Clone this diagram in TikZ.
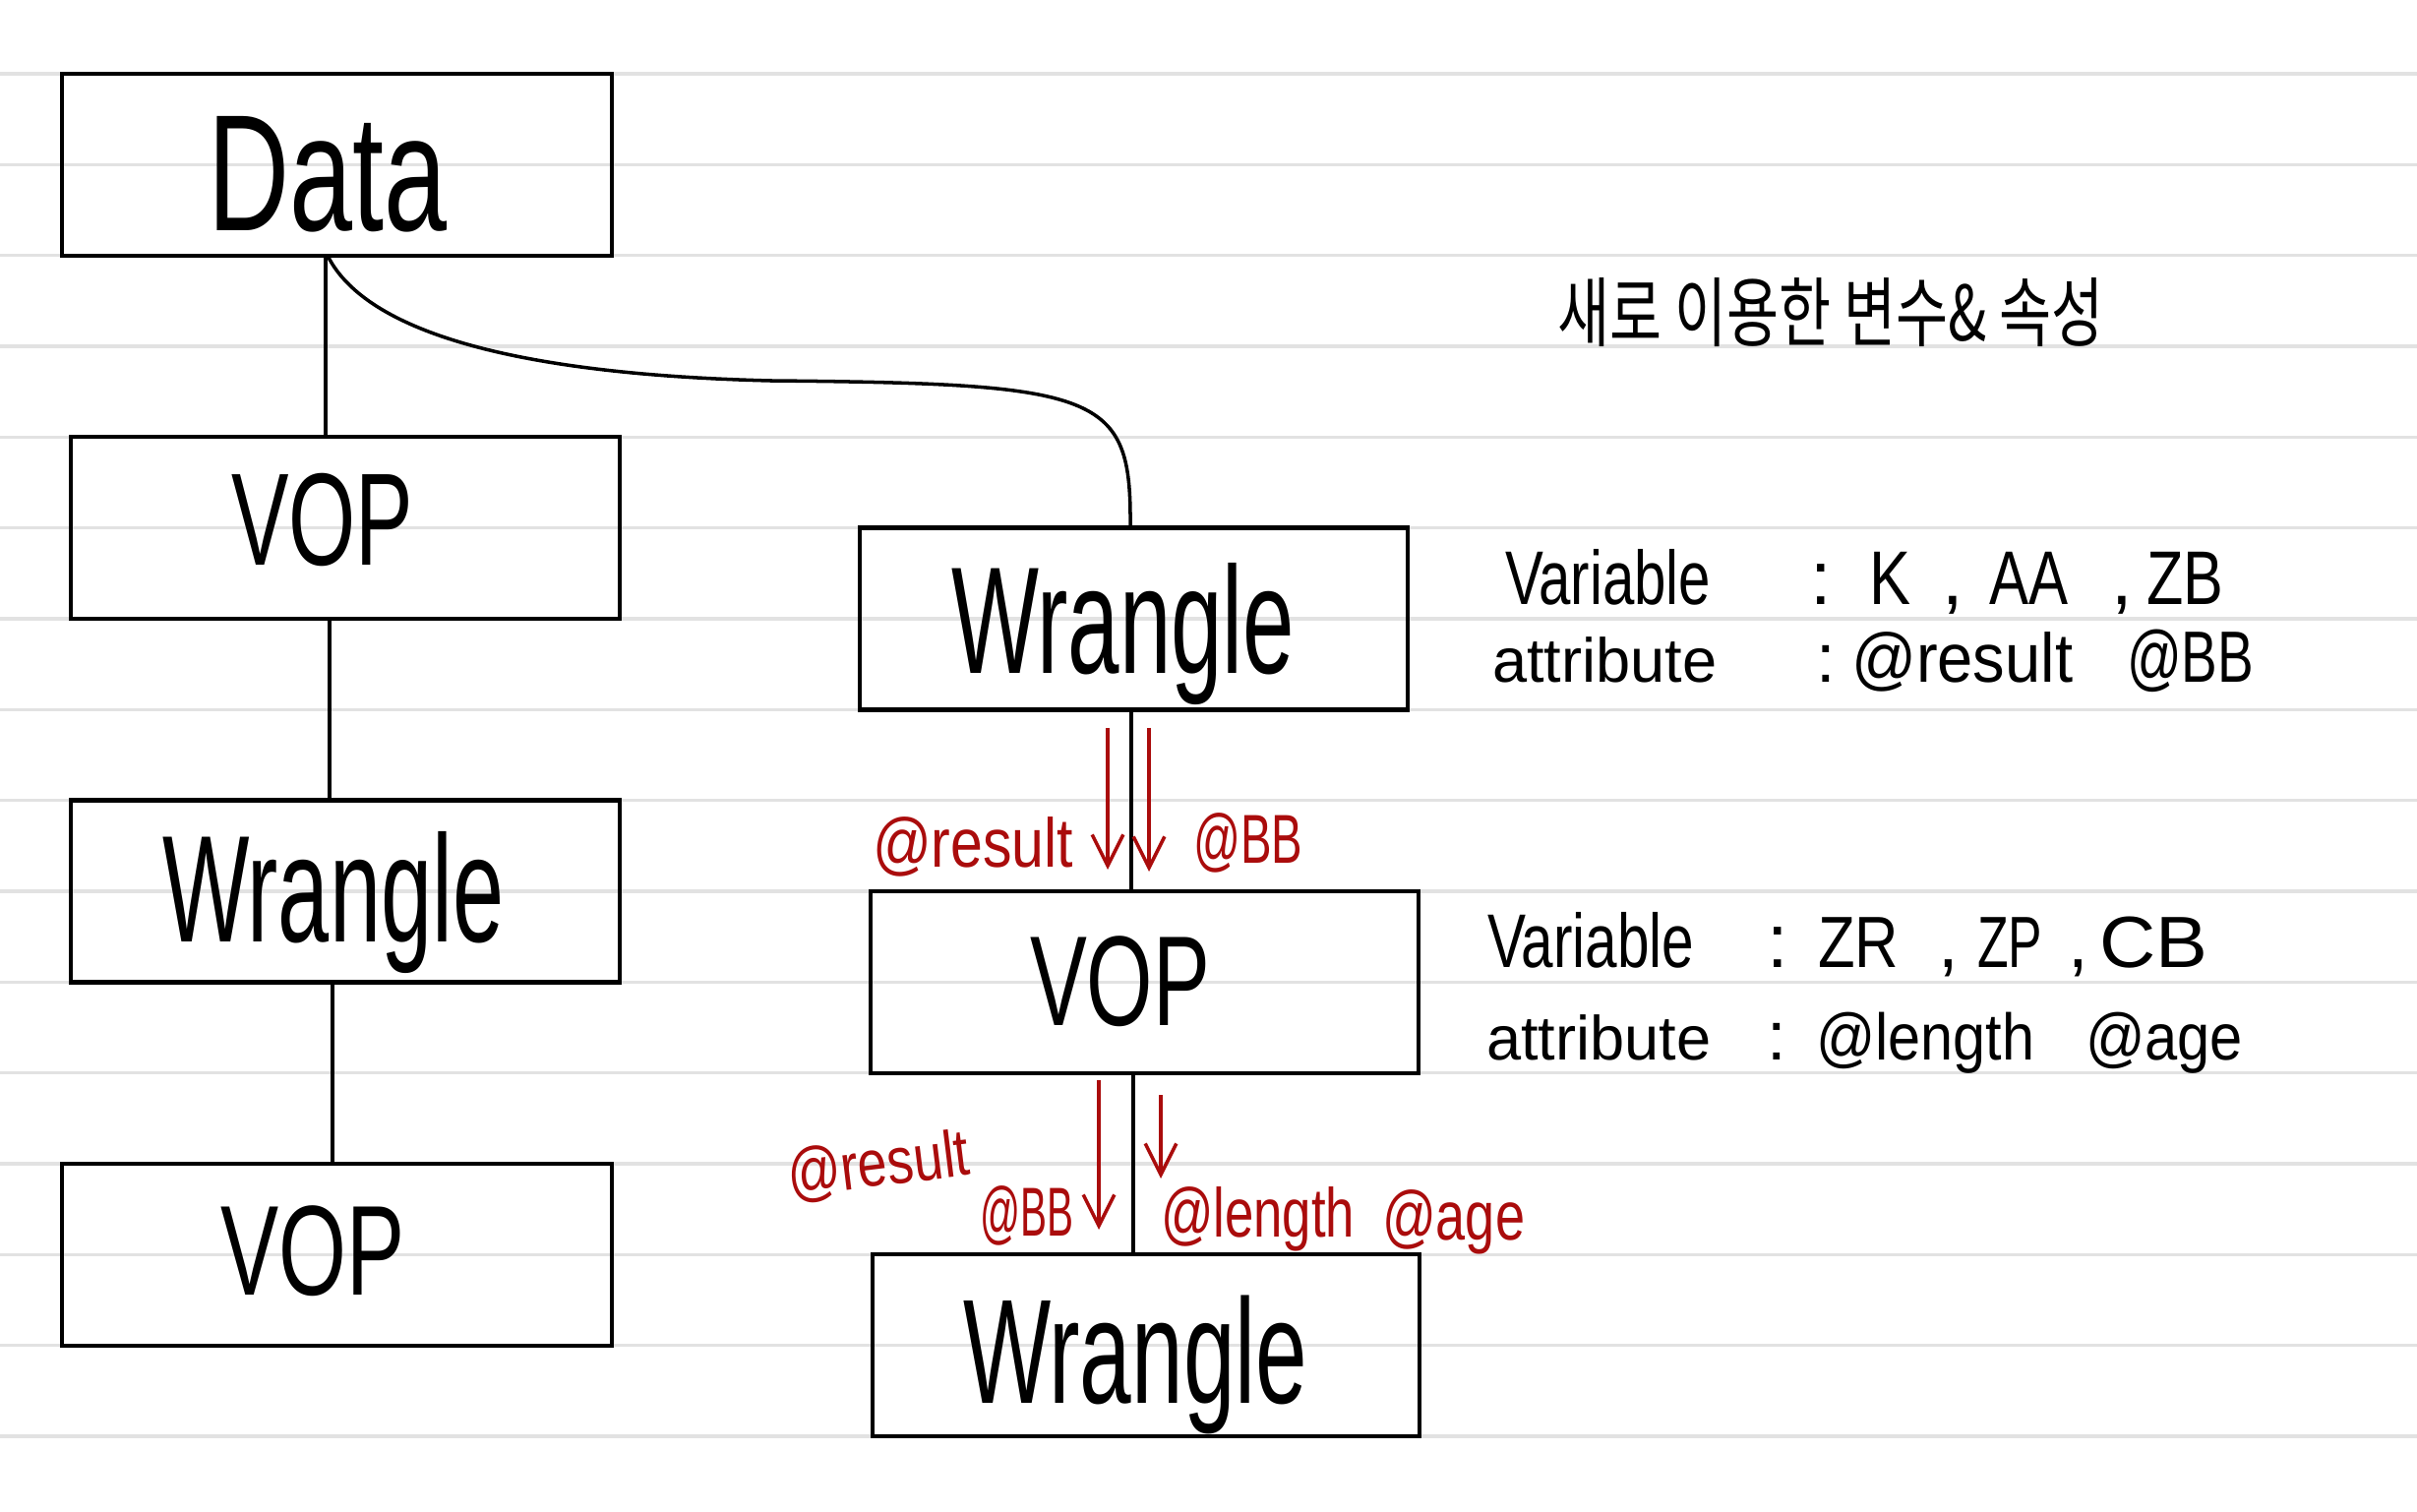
\documentclass[tikz,border=0pt]{standalone}
\usepackage{fontspec}
\setmainfont{Liberation Sans}
\newfontfamily\kr{Noto Sans CJK KR}
\usepackage{graphicx}
\usetikzlibrary{arrows.meta}
\definecolor{inkred}{RGB}{170,12,12}
\definecolor{rulegray}{RGB}{226,226,226}
\newcommand{\hw}[2]{\resizebox{#1}{\height}{#2}}
\newcommand{\fs}[1]{\fontsize{#1}{#1}\selectfont}
\begin{document}
\begin{tikzpicture}[x=0.01cm,y=-0.01cm,
  box/.style={draw, line width=1.2pt, rectangle, inner sep=0pt, minimum height=1.847cm},
  lbl/.style={anchor=base west, inner sep=0pt, outer sep=0pt},
  redlbl/.style={anchor=base west, inner sep=0pt, outer sep=0pt, text=inkred, font=\fs{20}},
  conn/.style={line width=1pt, black},
  redarrow/.style={line width=1pt, inkred, -{Straight Barb[length=9pt,width=9pt]}},
  rulestyle/.style={rulegray, line width=0.9pt}]
\fill[white] (0,0) rectangle (2457,1537);
\useasboundingbox (0,0) rectangle (2457,1537);
% ruled notebook lines
\foreach \k in {0,...,15} \draw[rulestyle] (0,{75+92.33*\k}) -- (2457,{75+92.33*\k});

% boxes
\node[box, minimum width=5.59cm] (data) at (342.5,167.3) {};
\node[box, minimum width=5.58cm] (vopA) at (351,536.7) {};
\node[box, minimum width=5.58cm] (wraA) at (351,906) {};
\node[box, minimum width=5.59cm] (vopB) at (342.5,1275.3) {};
\node[box, minimum width=5.57cm] (wraB) at (1152.5,629) {};
\node[box, minimum width=5.57cm] (vopC) at (1163.5,998.3) {};
\node[box, minimum width=5.56cm] (wraC) at (1165,1367.6) {};

% box labels
\node[lbl, font=\fs{48}] (dataT) at (211,235) {\hw{2.43cm}{Data}};
\node[lbl, font=\fs{38}] (vopAT) at (235,575) {\hw{1.85cm}{VOP}};
\node[lbl, font=\fs{44}] (wraAT) at (165,957) {\hw{3.47cm}{Wrangle}};
\node[lbl, font=\fs{37}] (vopBT) at (224,1316) {\hw{1.87cm}{VOP}};
\node[lbl, font=\fs{44}] (wraBT) at (967,685) {\hw{3.49cm}{Wrangle}};
\node[lbl, font=\fs{37}] (vopCT) at (1047,1042) {\hw{1.83cm}{VOP}};
\node[lbl, font=\fs{43}] (wraCT) at (979,1426) {\hw{3.50cm}{Wrangle}};

% connectors
\coordinate (x1) at (331,0);
\coordinate (x2) at (335,0);
\coordinate (x3) at (338,0);
\coordinate (x4) at (1150,0);
\coordinate (x5) at (1152,0);
\coordinate (cs) at (334,0);
\coordinate (ce) at (1149,0);
\draw[conn] (x1 |- data.south) -- (x1 |- vopA.north);
\draw[conn] (x2 |- vopA.south) -- (x2 |- wraA.north);
\draw[conn] (x3 |- wraA.south) -- (x3 |- vopB.north);
\draw[conn] (x4 |- wraB.south) -- (x4 |- vopC.north);
\draw[conn] (x5 |- vopC.south) -- (x5 |- wraC.north);
\draw[conn] (cs |- data.south) .. controls (370,330) and (500,380) .. (783,387) .. controls (1120,390) and (1150,400) .. (ce |- wraB.north);

% red arrows
\coordinate (a1s) at (1126,740); \coordinate (a1e) at (1126,884);
\coordinate (a2s) at (1168,740); \coordinate (a2e) at (1168,886);
\coordinate (a3s) at (1117,1098); \coordinate (a3e) at (1117,1250);
\coordinate (a4s) at (1180,1113); \coordinate (a4e) at (1180,1198);
\draw[redarrow] (a1s) -- (a1e);
\draw[redarrow] (a2s) -- (a2e);
\draw[redarrow] (a3s) -- (a3e);
\draw[redarrow] (a4s) -- (a4e);

% red labels
\node[redlbl] (r1) at (887,881) {\hw{2.04cm}{@result}};
\node[redlbl] (r2) at (1213,877) {\hw{1.11cm}{@BB}};
\node[redlbl, anchor=center, rotate=7, font=\fs{19}] (r3) at (893,1186) {\hw{1.86cm}{@result}};
\node[redlbl] (r4) at (996,1256) {\hw{0.95cm}{@BB}};
\node[redlbl] (r5) at (1180,1257) {\hw{1.97cm}{@length}};
\node[redlbl] (r6) at (1405,1260) {\hw{1.45cm}{@age}};

% Korean heading
\node[inner sep=0pt, font=\kr\fs{22}] (title) at (1861,318) {\hw{5.55cm}{새로 이용한 변수\& 속성}};

% row 1
\node[lbl, font=\fs{22}] (var1) at (1530,615) {\hw{2.09cm}{Variable}};
\node[lbl, font=\fs{22}] (col1) at (1840,615) {:};
\node[lbl, font=\fs{22}] (k1) at (1900,615) {\hw{0.42cm}{K}};
\node[lbl, font=\fs{22}] (cm1) at (1974,615) {,};
\node[lbl, font=\fs{22}] (aa1) at (2022,615) {\hw{0.80cm}{AA}};
\node[lbl, font=\fs{22}] (cm2) at (2146,615) {,};
\node[lbl, font=\fs{22}] (zb1) at (2182,615) {\hw{0.78cm}{ZB}};
% row 2
\node[lbl, font=\fs{18}] (att1) at (1517,694) {\hw{2.28cm}{attribute}};
\node[lbl, font=\fs{20}] (col2) at (1846,694) {:};
\node[lbl, font=\fs{20}] (res1) at (1882,694) {\hw{2.25cm}{@result}};
\node[lbl, font=\fs{21}] (bb1) at (2162,694) {\hw{1.29cm}{@BB}};
% row 3
\node[lbl, font=\fs{22}] (var2) at (1512,983) {\hw{2.10cm}{Variable}};
\node[lbl, font=\fs{22}] (col3) at (1796,983) {:};
\node[lbl, font=\fs{21}] (zr2) at (1848,983) {\hw{0.82cm}{ZR}};
\node[lbl, font=\fs{21}] (cm3) at (1970,983) {,};
\node[lbl, font=\fs{21}] (zp2) at (2010,983) {\hw{0.66cm}{ZP}};
\node[lbl, font=\fs{21}] (cm4) at (2102,983) {,};
\node[lbl, font=\fs{21}] (cb2) at (2134,983) {\hw{1.10cm}{CB}};
% row 4
\node[lbl, font=\fs{18}] (att2) at (1511,1077) {\hw{2.28cm}{attribute}};
\node[lbl, font=\fs{20}] (col4) at (1796,1077) {:};
\node[lbl, font=\fs{19}] (len2) at (1846,1077) {\hw{2.22cm}{@length}};
\node[lbl, font=\fs{19}] (age2) at (2120,1077) {\hw{1.60cm}{@age}};
\end{tikzpicture}
\end{document}
